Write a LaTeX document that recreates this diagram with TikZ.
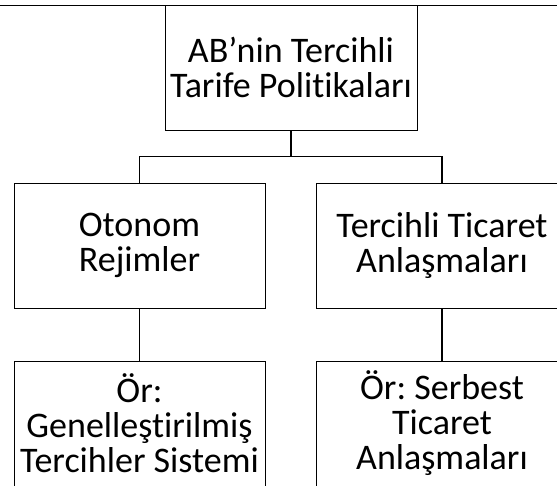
\documentclass[tikz,border=0pt]{standalone}
\usepackage{fontspec}
\setmainfont{Carlito}[Ligatures=NoCommon]
\usetikzlibrary{positioning}
\frenchspacing

\begin{document}
\begin{tikzpicture}[x=1pt, y=-1pt]
		\tikzstyle{every node}=[font=\fontsize{36}{35}\selectfont]
		\tikzstyle{box}=[draw, line width=1pt, align=center, inner sep=1pt, minimum width=251pt, minimum height=125pt]
		\tikzstyle{conn}=[line width=1.3pt]
		\useasboundingbox (0,0) rectangle (557,485);
		\clip (0,0) rectangle (557,485);
		\draw [line width=1pt] (0,5) -- (557,5);
		\node [box, minimum width=252pt] (politika) at (291,67.5) {AB’nin Tercihli\\Tarife Politikaları};
		\node [box] (otonom) at (139.5,245.5) {Otonom\\Rejimler};
		\node [box] (tercihli) at (442,245.5) {Tercihli Ticaret\\Anlaşmaları};
		\node [box] (gts) at (139.5,423.5) {Ör:\\Genelleştirilmiş\\Tercihler Sistemi};
		\node [box] (sta) at (442,423.5) {Ör: Serbest\\Ticaret\\Anlaşmaları};
		\draw [conn] (politika.south) -- ++(0,26) -| (otonom.north);
		\draw [conn] (politika.south) -- ++(0,26) -| (tercihli.north);
		\draw [conn] (otonom.south) -- (gts.north);
		\draw [conn] (tercihli.south) -- (sta.north);
	\end{tikzpicture}
\end{document}
